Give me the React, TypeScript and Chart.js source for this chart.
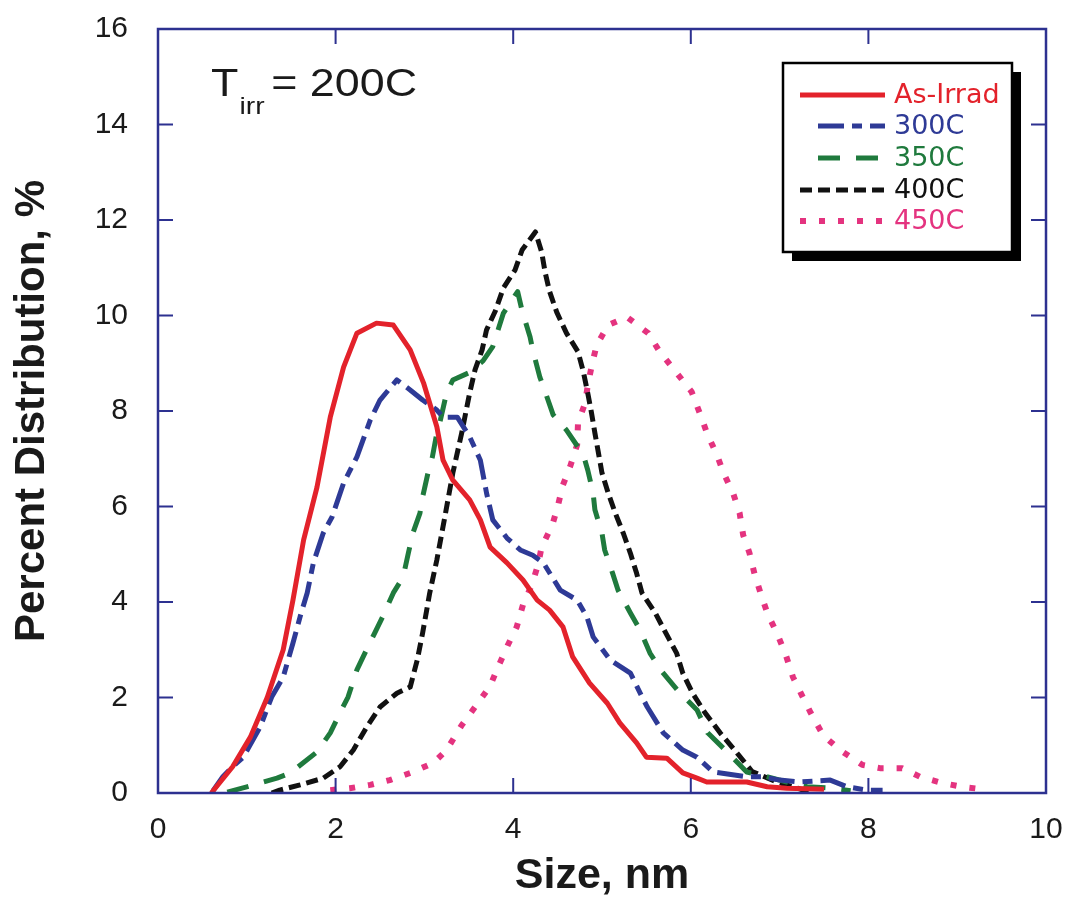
import React, { useEffect, useRef } from "react";
import { Chart, registerables } from "chart.js";

Chart.register(...registerables);

// ---- Data ----
const seriesNames = ["As-Irrad", "300C", "350C", "400C", "450C"];

const asIrradX = [0.6, 0.84, 1.04, 1.23, 1.41, 1.52, 1.64, 1.79, 1.94, 2.09, 2.24, 2.46, 2.65, 2.84, 2.99, 3.14, 3.21, 3.32, 3.51, 3.63, 3.74, 3.93, 4.11, 4.27, 4.41, 4.56, 4.67, 4.86, 5.06, 5.2, 5.39, 5.5, 5.73, 5.91, 6.07, 6.18, 6.63, 6.86, 7.08, 7.5];
const asIrradY = [0, 0.55, 1.17, 2.0, 3.0, 4.04, 5.3, 6.4, 7.87, 8.92, 9.63, 9.84, 9.8, 9.28, 8.59, 7.67, 6.97, 6.55, 6.14, 5.72, 5.15, 4.82, 4.46, 4.04, 3.83, 3.48, 2.85, 2.3, 1.88, 1.47, 1.05, 0.75, 0.73, 0.42, 0.31, 0.23, 0.23, 0.13, 0.1, 0.08];

const c300X = [0.62, 0.73, 0.84, 0.96, 1.15, 1.28, 1.41, 1.52, 1.6, 1.68, 1.75, 1.86, 1.96, 2.09, 2.24, 2.39, 2.5, 2.69, 2.84, 2.98, 3.14, 3.21, 3.37, 3.51, 3.63, 3.7, 3.77, 3.93, 4.08, 4.22, 4.34, 4.53, 4.72, 4.83, 4.9, 5.09, 5.32, 5.43, 5.51, 5.69, 5.91, 6.07, 6.25, 6.63, 6.81, 7.0, 7.23, 7.57, 7.76, 7.98, 8.16];
const c300Y = [0.05, 0.34, 0.55, 0.75, 1.38, 2.01, 2.43, 3.14, 3.69, 4.19, 4.82, 5.44, 5.78, 6.49, 7.04, 7.81, 8.23, 8.65, 8.44, 8.23, 8.02, 7.87, 7.87, 7.46, 6.97, 6.28, 5.72, 5.34, 5.09, 4.98, 4.82, 4.25, 4.04, 3.69, 3.27, 2.79, 2.51, 2.09, 1.8, 1.26, 0.9, 0.75, 0.44, 0.34, 0.34, 0.27, 0.23, 0.27, 0.13, 0.06, 0.06];

const c350X = [0.78, 1.0, 1.34, 1.49, 1.79, 1.94, 2.05, 2.14, 2.24, 2.33, 2.44, 2.53, 2.65, 2.76, 2.82, 2.87, 2.95, 2.98, 3.04, 3.09, 3.14, 3.18, 3.25, 3.32, 3.5, 3.66, 3.77, 3.89, 4.05, 4.1, 4.19, 4.22, 4.3, 4.36, 4.45, 4.6, 4.79, 4.84, 4.9, 4.92, 5.0, 5.03, 5.12, 5.18, 5.32, 5.43, 5.54, 5.68, 5.88, 6.07, 6.19, 6.41, 6.63, 6.78, 7.08, 7.31, 7.6, 7.8];
const c350Y = [0.02, 0.13, 0.31, 0.42, 0.86, 1.26, 1.68, 2.01, 2.58, 2.93, 3.35, 3.69, 4.19, 4.52, 5.03, 5.44, 5.86, 6.2, 6.7, 7.04, 7.54, 7.81, 8.38, 8.65, 8.8, 9.05, 9.35, 10.05, 10.5, 10.1, 9.55, 9.28, 8.71, 8.4, 7.92, 7.6, 7.08, 6.76, 6.28, 5.93, 5.44, 5.09, 4.6, 4.25, 3.77, 3.41, 2.93, 2.53, 2.09, 1.74, 1.26, 0.86, 0.44, 0.38, 0.23, 0.13, 0.1, 0.05];

const c400X = [1.28, 1.37, 1.6, 1.86, 2.05, 2.2, 2.35, 2.5, 2.69, 2.84, 2.92, 2.98, 3.06, 3.14, 3.23, 3.32, 3.42, 3.51, 3.57, 3.65, 3.7, 3.8, 3.89, 4.02, 4.1, 4.25, 4.32, 4.36, 4.41, 4.49, 4.6, 4.73, 4.79, 4.84, 4.88, 4.92, 4.96, 5.0, 5.07, 5.15, 5.24, 5.32, 5.39, 5.45, 5.6, 5.73, 5.84, 5.91, 6.02, 6.16, 6.33, 6.52, 6.69, 6.97, 7.2, 7.36];
const c400Y = [0, 0.06, 0.17, 0.31, 0.55, 0.9, 1.38, 1.8, 2.09, 2.22, 2.79, 3.35, 4.19, 4.88, 5.78, 6.7, 7.54, 8.38, 8.86, 9.28, 9.7, 10.1, 10.58, 10.95, 11.37, 11.75, 11.33, 10.9, 10.5, 10.07, 9.63, 9.24, 8.82, 8.37, 7.98, 7.54, 7.12, 6.7, 6.28, 5.86, 5.44, 5.02, 4.6, 4.19, 3.77, 3.31, 2.93, 2.51, 2.09, 1.68, 1.26, 0.84, 0.45, 0.23, 0.1, 0.0];

const c450X = [1.94, 2.16, 2.39, 2.61, 2.84, 3.1, 3.25, 3.42, 3.57, 3.74, 3.83, 3.94, 4.04, 4.11, 4.21, 4.28, 4.32, 4.44, 4.5, 4.56, 4.64, 4.72, 4.73, 4.81, 4.84, 4.89, 4.94, 5.07, 5.28, 5.52, 5.65, 5.84, 6.01, 6.1, 6.19, 6.29, 6.37, 6.48, 6.55, 6.59, 6.66, 6.72, 6.8, 6.87, 6.97, 7.07, 7.15, 7.25, 7.35, 7.49, 7.68, 7.93, 8.13, 8.38, 8.58, 8.83, 9.05, 9.28];
const c450Y = [0.06, 0.1, 0.17, 0.27, 0.42, 0.63, 0.9, 1.42, 1.8, 2.24, 2.64, 3.1, 3.48, 3.94, 4.36, 4.78, 5.15, 5.61, 5.99, 6.45, 6.83, 7.29, 7.75, 8.17, 8.54, 9.0, 9.38, 9.8, 9.97, 9.63, 9.24, 8.8, 8.4, 7.96, 7.5, 7.1, 6.7, 6.26, 5.86, 5.4, 5.03, 4.57, 4.1, 3.73, 3.35, 2.89, 2.43, 2.05, 1.68, 1.21, 0.9, 0.59, 0.52, 0.52, 0.34, 0.21, 0.13, 0.08];

const xTicks = [0, 2, 4, 6, 8, 10];
const yTicks = [0, 2, 4, 6, 8, 10, 12, 14, 16];

const xTitle = "Size, nm";
const yTitle = "Percent Distribution, %";
const annotationMain = "T";
const annotationSub = "irr";
const annotationRest = "= 200C";

// ---- Styles ----
const colors = ["#E3222B", "#2E3A96", "#1F7A3D", "#111111", "#E4337F"];
const dashes = [[], [26, 8, 10, 8], [22, 16], [12, 6], [6, 13]];
const widths = [5, 5, 5, 5, 6];
const axisColor = "#2D3190";

const pts = (xs: number[], ys: number[]) => xs.map((x, i) => ({ x, y: ys[i] }));
const seriesData = [
  pts(asIrradX, asIrradY),
  pts(c300X, c300Y),
  pts(c350X, c350Y),
  pts(c400X, c400Y),
  pts(c450X, c450Y),
];

const framePlugin = {
  id: "framePlugin",
  afterDatasetsDraw(chart: any) {
    const { ctx, chartArea } = chart;
    const { left, right, top, bottom } = chartArea;
    const xs = chart.scales.x;
    const ys = chart.scales.y;
    ctx.save();
    ctx.strokeStyle = axisColor;
    ctx.lineWidth = 2.5;
    ctx.setLineDash([]);
    ctx.strokeRect(left, top, right - left, bottom - top);
    const tl = 15;
    ctx.lineWidth = 2;
    ctx.beginPath();
    xTicks.slice(1, -1).forEach((v) => {
      const px = xs.getPixelForValue(v);
      ctx.moveTo(px, bottom);
      ctx.lineTo(px, bottom - tl);
      ctx.moveTo(px, top);
      ctx.lineTo(px, top + tl);
    });
    yTicks.slice(1, -1).forEach((v) => {
      const py = ys.getPixelForValue(v);
      ctx.moveTo(left, py);
      ctx.lineTo(left + tl, py);
      ctx.moveTo(right, py);
      ctx.lineTo(right - tl, py);
    });
    ctx.stroke();

    // annotation T_irr = 200C
    ctx.fillStyle = "#1a1a1a";
    ctx.textBaseline = "alphabetic";
    ctx.textAlign = "left";
    ctx.save();
    ctx.translate(211, 96);
    ctx.scale(1.18, 1);
    ctx.font = "38px 'Liberation Sans', Arial, sans-serif";
    ctx.fillText(annotationMain, 0, 0);
    const tw = ctx.measureText(annotationMain).width;
    ctx.font = "24px 'Liberation Sans', Arial, sans-serif";
    ctx.fillText(annotationSub, tw + 1, 18);
    ctx.font = "38px 'Liberation Sans', Arial, sans-serif";
    ctx.fillText(annotationRest, 51, 0);
    ctx.restore();

    // legend box
    const bx = 783, by = 63, bw = 229, bh = 189;
    ctx.fillStyle = "#000";
    ctx.fillRect(bx + 9, by + 9, bw, bh);
    ctx.fillStyle = "#fff";
    ctx.fillRect(bx, by, bw, bh);
    ctx.strokeStyle = "#000";
    ctx.lineWidth = 2.5;
    ctx.strokeRect(bx, by, bw, bh);
    const rows = [95, 126, 158, 190, 221];
    chart.data.datasets.forEach((ds: any, i: number) => {
      const y = rows[i];
      ctx.strokeStyle = ds.borderColor;
      ctx.lineWidth = ds.borderWidth;
      ctx.setLineDash(ds.borderDash || []);
      ctx.lineDashOffset = 0;
      ctx.beginPath();
      const x0 = i === 1 || i === 2 ? 818 : 800;
      ctx.moveTo(x0, y);
      ctx.lineTo(885, y);
      ctx.stroke();
      ctx.setLineDash([]);
      ctx.fillStyle = ds.borderColor;
      ctx.font = "27px 'DejaVu Sans', Verdana, sans-serif";
      ctx.textBaseline = "middle";
      ctx.fillText(ds.label, 894, y + 1);
    });
    ctx.restore();
  },
};

export default function App() {
  const ref = useRef<HTMLCanvasElement | null>(null);
  useEffect(() => {
    if (!ref.current) return;
    const chart = new Chart(ref.current, {
      type: "line",
      data: {
        datasets: seriesNames.map((name, i) => ({
          label: name,
          data: seriesData[i],
          borderColor: colors[i],
          backgroundColor: colors[i],
          borderWidth: widths[i],
          borderDash: dashes[i],
          borderCapStyle: "butt",
          borderJoinStyle: "round",
          pointRadius: 0,
          tension: 0,
          fill: false,
        })),
      },
      options: {
        animation: false,
        responsive: false,
        maintainAspectRatio: false,
        layout: { padding: { left: 0, right: 20, top: 29, bottom: 0 } },
        plugins: { legend: { display: false }, tooltip: { enabled: false } },
        scales: {
          x: {
            type: "linear",
            min: 0,
            max: 10,
            afterBuildTicks: (s: any) => {
              s.ticks = xTicks.map((v) => ({ value: v }));
            },
            afterFit: (s: any) => {
              s.height = 106;
              s.paddingLeft = 0;
              s.paddingRight = 0;
            },
            grid: { display: false, drawTicks: false },
            border: { display: false },
            ticks: {
              color: "#1a1a1a",
              padding: 19,
              maxRotation: 0,
              font: { family: "'Liberation Sans', Arial, sans-serif", size: 30 },
            },
            title: {
              display: true,
              text: xTitle,
              color: "#1a1a1a",
              padding: { top: 0, bottom: 1 },
              font: { family: "'Liberation Sans', Arial, sans-serif", size: 43, weight: "bold", lineHeight: 1 },
            },
          },
          y: {
            type: "linear",
            min: 0,
            max: 16,
            afterBuildTicks: (s: any) => {
              s.ticks = yTicks.map((v) => ({ value: v }));
            },
            afterFit: (s: any) => {
              s.width = 158;
              s.paddingTop = 0;
              s.paddingBottom = 0;
            },
            grid: { display: false, drawTicks: false },
            border: { display: false },
            ticks: {
              color: "#1a1a1a",
              padding: 30,
              font: { family: "'Liberation Sans', Arial, sans-serif", size: 30 },
            },
            title: {
              display: true,
              text: yTitle,
              color: "#1a1a1a",
              padding: { top: 11, bottom: 0 },
              font: { family: "'Liberation Sans', Arial, sans-serif", size: 42, weight: "bold", lineHeight: 1 },
            },
          },
        },
      } as any,
      plugins: [framePlugin],
    });
    return () => chart.destroy();
  }, []);
  return (
    <div style={{ position: "absolute", left: 0, top: 0, width: 1066, height: 899, background: "#fff" }}>
      <canvas ref={ref} width={1066} height={899} style={{ display: "block" }} />
    </div>
  );
}
